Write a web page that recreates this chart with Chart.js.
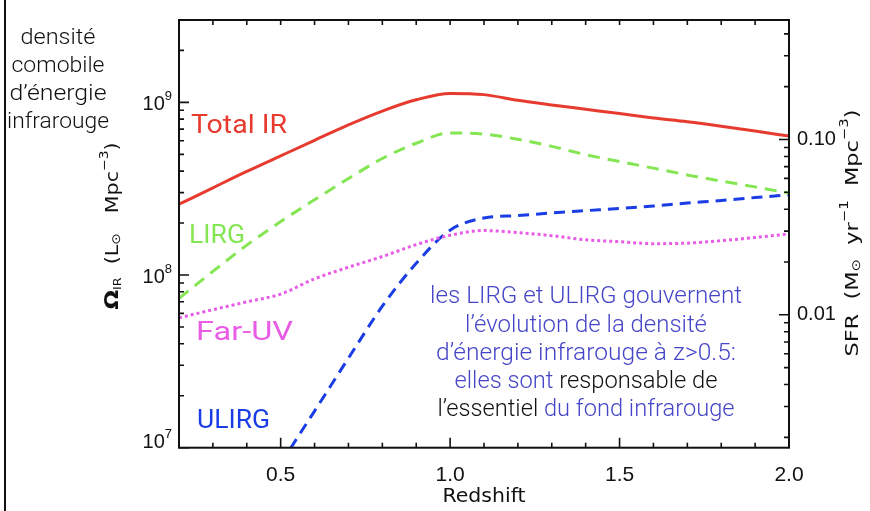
<!DOCTYPE html>
<html>
<head>
<meta charset="utf-8">
<script src="https://cdn.jsdelivr.net/npm/chart.js@4.4.1/dist/chart.umd.min.js"></script>
<style>
  html, body { margin: 0; padding: 0; background: #fff; }
  #wrap { width: 870px; height: 511px; }
</style>
</head>
<body>
<div id="wrap"><canvas id="chart" width="870" height="511"></canvas></div>
<script>
// Redshift grid for the curves
const redshift = [0.2, 0.3, 0.4, 0.5, 0.6, 0.7, 0.8, 0.9, 1.0, 1.1, 1.2, 1.3, 1.4, 1.5, 1.6, 1.7, 1.8, 1.9, 2.0];

// Omega_IR (L_sun Mpc^-3)
const totalIR = [2.57e8, 3.20e8, 3.98e8, 4.90e8, 6.03e8, 7.41e8, 8.91e8, 1.035e9, 1.127e9, 1.109e9,
                 1.028e9, 9.66e8, 9.12e8, 8.61e8, 8.13e8, 7.73e8, 7.28e8, 6.82e8, 6.38e8];
const lirg = [7.33e7, 1.05e8, 1.49e8, 2.04e8, 2.73e8, 3.62e8, 4.73e8, 5.80e8, 6.65e8, 6.55e8,
              6.11e8, 5.56e8, 4.98e8, 4.54e8, 4.16e8, 3.80e8, 3.50e8, 3.24e8, 2.98e8];
const farUV = [5.65e7, 6.30e7, 6.99e7, 7.76e7, 9.50e7, 1.11e8, 1.28e8, 1.50e8, 1.70e8, 1.81e8,
               1.76e8, 1.69e8, 1.60e8, 1.56e8, 1.52e8, 1.53e8, 1.58e8, 1.65e8, 1.73e8];
const ulirgZ = [0.5, 0.6, 0.7, 0.8, 0.9, 1.0, 1.1, 1.2, 1.3, 1.4, 1.5, 1.6, 1.7, 1.8, 1.9, 2.0];
const ulirg = [8.1e6, 1.63e7, 3.30e7, 6.60e7, 1.17e8, 1.82e8, 2.14e8, 2.21e8, 2.29e8, 2.36e8,
               2.43e8, 2.51e8, 2.61e8, 2.70e8, 2.81e8, 2.91e8];

// Axis ticks
const xTicks = [0.2, 0.3, 0.4, 0.5, 0.6, 0.7, 0.8, 0.9, 1.0, 1.1, 1.2, 1.3, 1.4, 1.5, 1.6, 1.7, 1.8, 1.9, 2.0];
const xLabels = [0.5, 1.0, 1.5, 2.0];
const omegaTicks = [1e7, 2e7, 3e7, 4e7, 5e7, 6e7, 7e7, 8e7, 9e7,
                    1e8, 2e8, 3e8, 4e8, 5e8, 6e8, 7e8, 8e8, 9e8, 1e9, 2e9, 3e9];
const omegaMajor = [1e7, 1e8, 1e9];
const omegaExp = ["7", "8", "9"];
const sfrTicks = [0.002, 0.003, 0.004, 0.005, 0.006, 0.007, 0.008, 0.009,
                  0.01, 0.02, 0.03, 0.04, 0.05, 0.06, 0.07, 0.08, 0.09, 0.1, 0.2, 0.3, 0.4];
const sfrMajor = [0.01, 0.1];
const sfrLabels = ["0.01", "0.10"];

const near = (a, b) => Math.abs(a - b) < 1e-9 * Math.max(1, Math.abs(b));
const isIn = (v, arr) => arr.some(a => near(v, a));

function pts(xs, ys) {
  return xs.map((x, i) => ({ x: x, y: ys[i] }));
}

// draws a run of text pieces with their own size / vertical shift,
// optionally stretched to a given width
function drawRich(ctx, parts, x, y, align, target) {
  let w = 0;
  parts.forEach(p => { ctx.font = p.f; w += ctx.measureText(p.t).width; });
  const s = target ? target / w : 1;
  ctx.save();
  ctx.translate(x, y);
  ctx.scale(s, 1);
  let cx = align === "center" ? -w / 2 : (align === "right" ? -w : 0);
  parts.forEach(p => {
    ctx.font = p.f;
    if (p.c) ctx.fillStyle = p.c;
    ctx.fillText(p.t, cx, p.dy || 0);
    cx += ctx.measureText(p.t).width;
  });
  ctx.restore();
}

const deco = {
  id: "deco",
  afterDraw(chart) {
    const ctx = chart.ctx;
    const { left, right, top, bottom } = chart.chartArea;
    const xs = chart.scales.x, ys = chart.scales.y, rs = chart.scales.sfr;
    ctx.save();

    // frame line of the slide
    ctx.strokeStyle = "#111";
    ctx.lineWidth = 2;
    ctx.beginPath(); ctx.moveTo(5, 0); ctx.lineTo(5, 511); ctx.stroke();

    // plot box
    ctx.strokeRect(left, top, right - left, bottom - top);

    // inward ticks
    ctx.lineWidth = 1.6;
    ctx.beginPath();
    xs.ticks.forEach(t => {
      const px = xs.getPixelForValue(t.value);
      const L = isIn(t.value, xLabels) ? 10 : 5;
      ctx.moveTo(px, bottom); ctx.lineTo(px, bottom - L);
      ctx.moveTo(px, top); ctx.lineTo(px, top + 5);
    });
    ys.ticks.forEach(t => {
      const py = ys.getPixelForValue(t.value);
      const L = isIn(t.value, omegaMajor) ? 10 : 5;
      ctx.moveTo(left, py); ctx.lineTo(left + L, py);
    });
    rs.ticks.forEach(t => {
      const py = rs.getPixelForValue(t.value);
      const L = isIn(t.value, sfrMajor) ? 10 : 5;
      ctx.moveTo(right, py); ctx.lineTo(right - L, py);
    });
    ctx.stroke();

    const sans = "'Liberation Sans', Arial, sans-serif";
    const dv = "'DejaVu Sans', sans-serif";

    // left tick labels 10^n
    ctx.fillStyle = "#111";
    ctx.textBaseline = "middle";
    omegaMajor.forEach((v, i) => {
      const py = Math.min(ys.getPixelForValue(v), bottom - 7);
      drawRich(ctx, [
        { t: "10", f: "20px " + sans },
        { t: omegaExp[i], f: "13px " + sans, dy: -8 }
      ], left - 7, py + 2, "right");
    });

    // x axis title
    drawRich(ctx, [{ t: "Redshift", f: "19px " + dv }], (left + right) / 2, 497, "center", 83);

    // left axis title (rotated)
    ctx.save();
    ctx.translate(113, 226);
    ctx.rotate(-Math.PI / 2);
    drawRich(ctx, [
      { t: "Ω", f: "bold 20px " + dv },
      { t: "IR", f: "11px " + dv, dy: 5 },
      { t: "  (L", f: "18px " + dv },
      { t: "⊙", f: "12px " + dv, dy: 4 },
      { t: "   Mpc", f: "18px " + dv },
      { t: "−3", f: "12px " + dv, dy: -8 },
      { t: ")", f: "18px " + dv }
    ], 0, 0, "center", 167);
    ctx.restore();

    // right axis title (rotated)
    ctx.save();
    ctx.translate(853, 233);
    ctx.rotate(-Math.PI / 2);
    drawRich(ctx, [
      { t: "SFR  (M", f: "18px " + dv },
      { t: "⊙", f: "12px " + dv, dy: 4 },
      { t: "  yr", f: "18px " + dv },
      { t: "−1", f: "12px " + dv, dy: -8 },
      { t: "  Mpc", f: "18px " + dv },
      { t: "−3", f: "12px " + dv, dy: -8 },
      { t: ")", f: "18px " + dv }
    ], 0, 0, "center", 247);
    ctx.restore();

    // curve labels
    ctx.textBaseline = "alphabetic";
    const lab = "25px Roboto, sans-serif";
    drawRich(ctx, [{ t: "Total IR", f: lab, c: "#e63b2e" }], 191, 133, "left", 96);
    drawRich(ctx, [{ t: "LIRG", f: lab, c: "#84e653" }], 189, 243, "left", 56);
    drawRich(ctx, [{ t: "Far-UV", f: lab, c: "#e85ce6" }], 196, 340, "left", 97);
    drawRich(ctx, [{ t: "ULIRG", f: lab, c: "#1a3de6" }], 197, 428, "left", 73);

    // annotation
    const blue = "#4545c8", blk = "#111";
    const af = "300 24px Roboto, 'Open Sans', sans-serif";
    const cx = 586;
    drawRich(ctx, [{ t: "les LIRG et ULIRG gouvernent", f: af, c: blue }], cx, 303, "center", 312);
    drawRich(ctx, [{ t: "l’évolution de la densité", f: af, c: blue }], cx, 332, "center", 242);
    drawRich(ctx, [{ t: "d’énergie infrarouge à z>0.5:", f: af, c: blue }], cx, 360, "center", 300);
    drawRich(ctx, [{ t: "elles sont ", f: af, c: blue }, { t: "responsable de", f: af, c: blk }], cx, 388, "center", 263);
    drawRich(ctx, [{ t: "l’essentiel ", f: af, c: blk }, { t: "du fond infrarouge", f: af, c: blue }], cx, 416, "center", 297);

    // side note
    const sf = "300 22px Roboto, sans-serif";
    const sideW = [75, 93, 97, 102];
    ["densité", "comobile", "d’énergie", "infrarouge"].forEach((s, i) => {
      drawRich(ctx, [{ t: s, f: sf, c: blk }], 58, 44 + i * 28, "center", sideW[i]);
    });

    ctx.restore();
  }
};

const lineStyle = { pointRadius: 0, borderWidth: 3, fill: false, tension: 0.4, cubicInterpolationMode: "monotone" };

new Chart(document.getElementById("chart"), {
  type: "line",
  data: {
    datasets: [
      Object.assign({ label: "Total IR", data: pts(redshift, totalIR), borderColor: "#e63b2e" }, lineStyle),
      Object.assign({ label: "LIRG", data: pts(redshift, lirg), borderColor: "#84e653", borderDash: [12, 8] }, lineStyle),
      Object.assign({ label: "Far-UV", data: pts(redshift, farUV), borderColor: "#e85ce6", borderDash: [3, 3] }, lineStyle),
      Object.assign({ label: "ULIRG", data: pts(ulirgZ, ulirg), borderColor: "#1a3de6", borderDash: [11, 7] }, lineStyle)
    ]
  },
  options: {
    responsive: false,
    animation: false,
    layout: { padding: { top: 11, left: 0, right: 0, bottom: 0 } },
    plugins: { legend: { display: false }, tooltip: { enabled: false } },
    scales: {
      x: {
        type: "linear", position: "bottom", min: 0.2, max: 2.0,
        grid: { display: false, drawTicks: false },
        border: { display: false },
        afterBuildTicks: s => { s.ticks = xTicks.map(v => ({ value: v })); },
        afterFit: s => { s.height = 63.3; },
        ticks: {
          autoSkip: false, maxRotation: 0, padding: 15, color: "#111",
          font: { family: "'Liberation Sans', Arial, sans-serif", size: 21 },
          callback: v => isIn(v, xLabels) ? v.toFixed(1) : ""
        }
      },
      y: {
        type: "logarithmic", position: "left", min: 1e7, max: 3e9,
        grid: { display: false, drawTicks: false },
        border: { display: false },
        afterBuildTicks: s => { s.ticks = omegaTicks.map(v => ({ value: v })); },
        afterFit: s => { s.width = 179; },
        ticks: { display: false }
      },
      sfr: {
        type: "logarithmic", position: "right", min: 0.001746, max: 0.48,
        grid: { display: false, drawTicks: false },
        border: { display: false },
        afterBuildTicks: s => { s.ticks = sfrTicks.map(v => ({ value: v })); },
        afterFit: s => { s.width = 81; },
        ticks: {
          autoSkip: false, padding: 8, color: "#111",
          font: { family: "'Liberation Sans', Arial, sans-serif", size: 20 },
          callback: v => { const i = sfrMajor.findIndex(m => near(v, m)); return i >= 0 ? sfrLabels[i] : ""; }
        }
      }
    }
  },
  plugins: [deco]
});
</script>
</body>
</html>
